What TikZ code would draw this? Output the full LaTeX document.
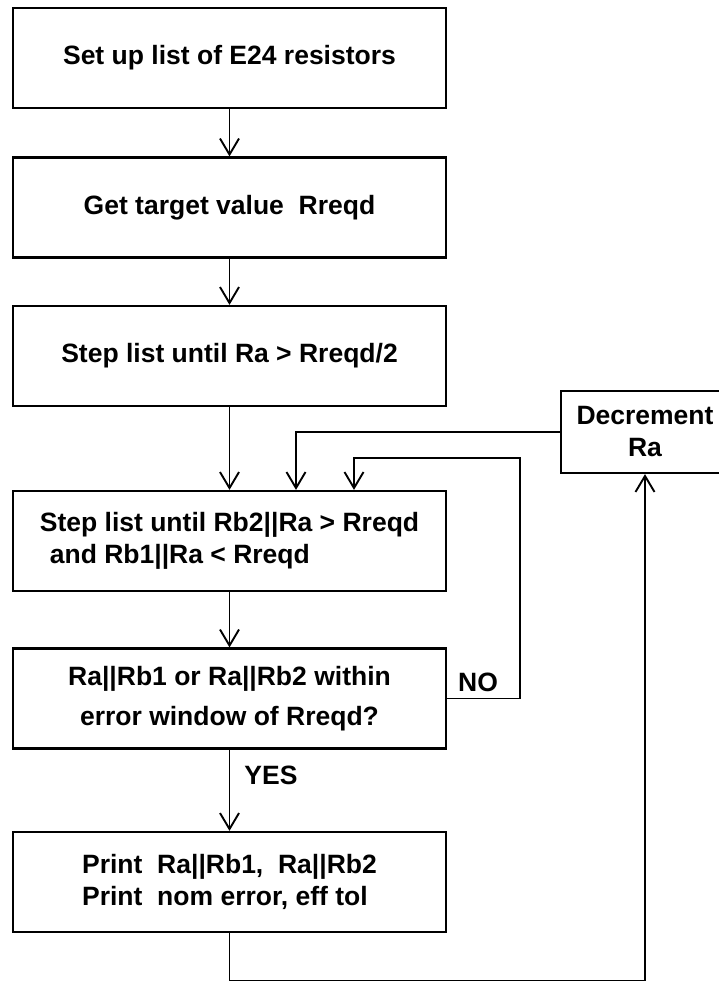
\documentclass[tikz,border=0pt]{standalone}
\usepackage{fontspec}
\setmainfont{Liberation Sans}
\usetikzlibrary{arrows.meta}
\tikzset{
  box/.style={draw, line width=2.2pt, minimum width=433pt, minimum height=100pt,
              align=center, inner sep=0pt},
  flow/.style={line width=1.9pt, -{Straight Barb[length=16pt,width=19pt,line width=1.9pt]}}
}
\begin{document}
\begin{tikzpicture}[x=1pt, y=1pt, font=\fontsize{26.5}{32}\selectfont\bfseries]
    \useasboundingbox (0,0) rectangle (719,-981);
    \node[box] (set) at (229.5,-58) {Set up list of E24 resistors};
    \node[box] (get) at (229.5,-207.5) {Get target value\ \ Rreqd};
    \node[box] (sta) at (229.5,-356) {Step list until Ra > Rreqd/2};
    \node[box, align=left] (stb) at (229.5,-541)
          {Step list until Rb2||Ra > Rreqd\\\hspace*{10pt}and Rb1||Ra < Rreqd};
    \node[box] (chk) at (229.5,-698.5)
          {Ra||Rb1 or Ra||Rb2 within\\[8pt]error window of Rreqd?};
    \node[box, align=left] (prt) at (229.5,-882)
          {Print\ \ Ra||Rb1,\ \ Ra||Rb2\\Print\ \ nom error, eff tol};
    \node[box, minimum width=168pt, minimum height=82pt] (dec) at (645,-432)
          {Decrement\\Ra};
    \node (no) at (478,-682) {NO};
    \node (yes) at (271,-775) {YES};
    \coordinate (noturn) at (520,-458);
    \draw[flow] (set) -- (get);
    \draw[flow] (get) -- (sta);
    \draw[flow] (sta) -- (stb);
    \draw[flow] (stb) -- (chk);
    \draw[flow] (chk) -- (prt);
    \draw[flow] (dec.west) -| ([xshift=66.5pt]stb.north);
    \draw[flow] (chk.east) -| (noturn) -| ([xshift=124.5pt]stb.north);
    \draw[flow] (prt.south) -- ++(0,-47.5) -| (dec.south);
\end{tikzpicture}
\end{document}
